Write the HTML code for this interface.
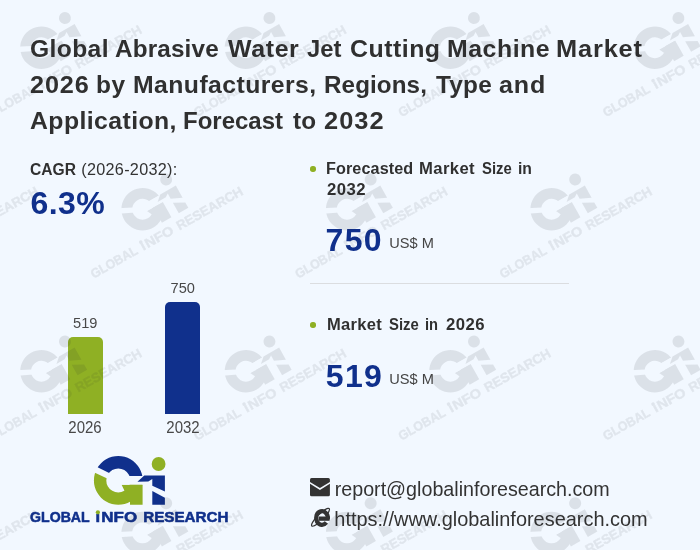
<!DOCTYPE html>
<html lang="en">
<head>
<meta charset="utf-8">
<title>Global Abrasive Water Jet Cutting Machine Market 2026</title>
<style>
html,body{margin:0;padding:0;}
body{width:700px;height:550px;overflow:hidden;background:#f2f8ff;font-family:"Liberation Sans",sans-serif;color:#333333;position:relative;}
.abs{position:absolute;white-space:nowrap;}
h1{position:absolute;left:0;top:0;margin:0;font-size:24px;line-height:36px;font-weight:bold;color:#303030;white-space:nowrap;}
.w{position:absolute;display:block;transform-origin:0 50%;}
.lbl{font-size:16px;line-height:20px;}
.big{font-size:32px;line-height:36px;font-weight:bold;color:#10308c;}
.unit{font-size:14.6px;line-height:16px;color:#444;}
.h2{font-size:16px;line-height:20px;font-weight:bold;color:#303030;}
.dot{position:absolute;width:5.4px;height:5.4px;border-radius:50%;background:#8fb024;}
.hr{position:absolute;left:310px;width:259px;top:283px;height:1px;background:#dbdde0;}
.bar{position:absolute;border-radius:5px 5px 0 0;}
.num{font-size:14.6px;line-height:16px;color:#484848;text-align:center;width:60px;}
.yr{font-size:16.4px;line-height:20px;transform:scaleX(0.915);}
.contact{font-size:19.8px;line-height:24px;color:#333;}
svg{position:absolute;left:0;top:0;}
</style>
</head>
<body>
<h1><span class="w" style="left:30.2px;top:30.8px;letter-spacing:0.37px;transform:scaleX(1.0260)">Global</span> <span class="w" style="left:115.2px;top:30.8px;letter-spacing:0.16px;transform:scaleX(1.0114)">Abrasive</span> <span class="w" style="left:227.5px;top:30.8px;letter-spacing:0.60px;transform:scaleX(1.0385)">Water</span> <span class="w" style="left:306.5px;top:30.8px;letter-spacing:0.00px;transform:scaleX(0.9909)">Jet</span> <span class="w" style="left:349.5px;top:30.8px;letter-spacing:0.48px;transform:scaleX(1.0370)">Cutting</span> <span class="w" style="left:446.7px;top:30.8px;letter-spacing:0.52px;transform:scaleX(1.0347)">Machine</span> <span class="w" style="left:556.4px;top:30.8px;letter-spacing:0.80px;transform:scaleX(1.0567)">Market</span> <span class="w" style="left:30.2px;top:66.7px;letter-spacing:0.83px;transform:scaleX(1.0515)">2026</span> <span class="w" style="left:96.0px;top:66.7px;letter-spacing:0.49px;transform:scaleX(1.0192)">by</span> <span class="w" style="left:132.9px;top:66.7px;letter-spacing:0.41px;transform:scaleX(1.0325)">Manufacturers,</span> <span class="w" style="left:324.2px;top:66.7px;letter-spacing:0.11px;transform:scaleX(1.0077)">Regions,</span> <span class="w" style="left:435.5px;top:66.7px;letter-spacing:0.25px;transform:scaleX(1.0142)">Type</span> <span class="w" style="left:498.5px;top:66.7px;letter-spacing:0.84px;transform:scaleX(1.0437)">and</span> <span class="w" style="left:29.5px;top:102.6px;letter-spacing:0.40px;transform:scaleX(1.0333)">Application,</span> <span class="w" style="left:183.0px;top:102.6px;letter-spacing:0.00px;transform:scaleX(1.0000)">Forecast</span> <span class="w" style="left:292.5px;top:102.6px;letter-spacing:0.25px;transform:scaleX(1.0114)">to</span> <span class="w" style="left:323.9px;top:102.6px;letter-spacing:0.94px;transform:scaleX(1.0588)">2032</span></h1>

<div class="abs lbl" style="left:30px;top:158.6px;"><b style="color:#303030;font-size:15.6px">CAGR</b> <span style="letter-spacing:0.3px;font-size:16.2px;margin-left:0.9px">(2026-2032):</span></div>
<div class="abs big" style="left:30.5px;top:184.5px;letter-spacing:0.4px">6.3%</div>

<div class="dot" style="left:310.3px;top:166.2px;"></div>
<div class="abs h2" style="left:0;top:0;"><span class="w" style="left:326.0px;top:159.0px;letter-spacing:0.10px;transform:scaleX(1.0105)">Forecasted</span> <span class="w" style="left:419.0px;top:159.0px;letter-spacing:0.38px;transform:scaleX(1.0396)">Market</span> <span class="w" style="left:482.0px;top:159.0px;letter-spacing:0.00px;transform:scaleX(0.9274)">Size</span> <span class="w" style="left:518.3px;top:159.0px;letter-spacing:0.00px;transform:scaleX(0.9796)">in</span> <span class="w" style="left:326.5px;top:179.5px;letter-spacing:0.48px;transform:scaleX(1.0435)">2032</span></div>
<div class="abs big" style="left:325.6px;top:222.2px;letter-spacing:1.3px">750</div>
<div class="abs unit" style="left:389.2px;top:235px;">US$ M</div>
<div class="hr"></div>
<div class="dot" style="left:310.3px;top:322.4px;"></div>
<div class="abs h2" style="left:0;top:0;"><span class="w" style="left:326.5px;top:315.1px;letter-spacing:0.31px;transform:scaleX(1.0322)">Market</span> <span class="w" style="left:389.0px;top:315.1px;letter-spacing:0.00px;transform:scaleX(0.9274)">Size</span> <span class="w" style="left:425.3px;top:315.1px;letter-spacing:0.00px;transform:scaleX(0.9184)">in</span> <span class="w" style="left:445.7px;top:315.1px;letter-spacing:0.48px;transform:scaleX(1.0435)">2026</span></div>
<div class="abs big" style="left:325.8px;top:357.6px;letter-spacing:1.3px">519</div>
<div class="abs unit" style="left:389.2px;top:370.8px;">US$ M</div>

<div class="bar" style="left:67.5px;top:336.5px;width:35px;height:77px;background:#8fb024;"></div>
<div class="bar" style="left:165px;top:301.5px;width:35px;height:112px;background:#10308c;"></div>
<div class="abs num" style="left:55.3px;top:315px;">519</div>
<div class="abs num" style="left:152.8px;top:280px;">750</div>
<div class="abs num yr" style="left:55.4px;top:416.7px;">2026</div>
<div class="abs num yr" style="left:152.9px;top:416.7px;">2032</div>

<div class="abs contact" style="left:334.7px;top:476.9px;font-size:19.7px">report@globalinforesearch.com</div>
<div class="abs contact" style="left:334.3px;top:506.9px;font-size:19.93px">https://www.globalinforesearch.com</div>

<svg width="700" height="550" viewBox="0 0 700 550">
<!-- colour logo -->

<clipPath id="ccb"><polygon points="88,448 146,448 146,476 115.2,476 88,462.4"/></clipPath>
<clipPath id="ccg"><polygon points="88,469.5 112,480.8 118,480.8 118,484.7 150,484.7 150,510 88,510"/></clipPath>
<path clip-path="url(#ccb)" fill="#10308c" fill-rule="evenodd" d="M118.3 456 a24.4 24.4 0 1 0 0.01 0 Z M118.3 468.4 a12 12 0 1 1 -0.01 0 Z"/>
<g clip-path="url(#ccg)" fill="#8fb024"><path fill-rule="evenodd" d="M118.3 456 a24.4 24.4 0 1 0 0.01 0 Z M118.3 468.4 a12 12 0 1 1 -0.01 0 Z"/><path d="M121.6 484.7 H142.6 V504.8 H130 V492 L124.6 491 Z"/></g>
<circle cx="158.6" cy="464" r="6.9" fill="#8fb024"/>
<path fill="#10308c" d="M144.3 475.5 H164.9 V491.4 L152.3 485.7 V478.9 L148.3 481.6 L137.4 481.7 Z"/>
<path fill="#10308c" d="M152.3 490.9 L164.9 497.7 V504.8 H152.3 Z"/>


<g font-family="'Liberation Sans', sans-serif" font-weight="bold" font-size="15.1" fill="#10308c" stroke="#10308c" stroke-width="0.55" stroke-linejoin="round">
<text x="30.1" y="522.4" textLength="59.6" lengthAdjust="spacingAndGlyphs">GLOBAL</text>
<text x="95.6" y="522.4" textLength="4.6" lengthAdjust="spacingAndGlyphs">ı</text>
<text x="101.3" y="522.4" textLength="35.8" lengthAdjust="spacingAndGlyphs">NFO</text>
<text x="143.2" y="522.4" textLength="85.4" lengthAdjust="spacingAndGlyphs">RESEARCH</text>
</g>
<circle cx="97.9" cy="512.3" r="2.1" fill="#8fb024"/>

<!-- mail icon -->
<rect x="310" y="478" width="19.9" height="18.3" rx="1.5" fill="#333333"/>
<path d="M309.6 482.6 L319.95 489 L330.3 482.6" fill="none" stroke="#f2f8ff" stroke-width="1.5"/>
<!-- ie icon -->
<g fill="none" stroke="#333333">
<path d="M326.4 522.55 A5.9 6.8 0 1 1 327.87 518.6" stroke-width="4.2"/>
<g transform="translate(320.5 517.3) rotate(-45)"><path d="M-7 2.5 A12.3 3.05 0 1 1 7 2.5" stroke-width="1.2"/></g>
</g>
<clipPath id="iec"><ellipse cx="322" cy="518" rx="8" ry="8.9"/></clipPath>
<rect clip-path="url(#iec)" x="318.6" y="516.5" width="11.6" height="4.3" fill="#333333"/>
</svg>
<svg width="700" height="550" viewBox="0 0 700 550" style="pointer-events:none">
<g transform="translate(65.5 71) rotate(-29.4) scale(0.87) translate(-129.3 -517.3)"><g opacity="0.1">
<clipPath id="w0cb"><polygon points="88,448 146,448 146,476 115.2,476 88,462.4"/></clipPath>
<clipPath id="w0cg"><polygon points="88,469.5 112,480.8 118,480.8 118,484.7 150,484.7 150,510 88,510"/></clipPath>
<path clip-path="url(#w0cb)" fill="#20242e" fill-rule="evenodd" d="M118.3 456 a24.4 24.4 0 1 0 0.01 0 Z M118.3 468.4 a12 12 0 1 1 -0.01 0 Z"/>
<g clip-path="url(#w0cg)" fill="#20242e"><path fill-rule="evenodd" d="M118.3 456 a24.4 24.4 0 1 0 0.01 0 Z M118.3 468.4 a12 12 0 1 1 -0.01 0 Z"/><path d="M121.6 484.7 H142.6 V504.8 H130 V492 L124.6 491 Z"/></g>
<circle cx="158.6" cy="464" r="6.9" fill="#20242e"/>
<path fill="#20242e" d="M144.3 475.5 H164.9 V491.4 L152.3 485.7 V478.9 L148.3 481.6 L137.4 481.7 Z"/>
<path fill="#20242e" d="M152.3 490.9 L164.9 497.7 V504.8 H152.3 Z"/>
</g><g opacity="0.082">
<g font-family="'Liberation Sans', sans-serif" font-weight="bold" font-size="15.1" fill="#20242e" stroke="#20242e" stroke-width="0.55" stroke-linejoin="round">
<text x="30.1" y="522.4" textLength="59.6" lengthAdjust="spacingAndGlyphs">GLOBAL</text>
<text x="95.6" y="522.4" textLength="4.6" lengthAdjust="spacingAndGlyphs">ı</text>
<text x="101.3" y="522.4" textLength="35.8" lengthAdjust="spacingAndGlyphs">NFO</text>
<text x="143.2" y="522.4" textLength="85.4" lengthAdjust="spacingAndGlyphs">RESEARCH</text>
</g>
<circle cx="97.9" cy="512.3" r="2.1" fill="#20242e"/>
</g></g>
<g transform="translate(65.5 394.5) rotate(-29.4) scale(0.87) translate(-129.3 -517.3)"><g opacity="0.1">
<clipPath id="w1cb"><polygon points="88,448 146,448 146,476 115.2,476 88,462.4"/></clipPath>
<clipPath id="w1cg"><polygon points="88,469.5 112,480.8 118,480.8 118,484.7 150,484.7 150,510 88,510"/></clipPath>
<path clip-path="url(#w1cb)" fill="#20242e" fill-rule="evenodd" d="M118.3 456 a24.4 24.4 0 1 0 0.01 0 Z M118.3 468.4 a12 12 0 1 1 -0.01 0 Z"/>
<g clip-path="url(#w1cg)" fill="#20242e"><path fill-rule="evenodd" d="M118.3 456 a24.4 24.4 0 1 0 0.01 0 Z M118.3 468.4 a12 12 0 1 1 -0.01 0 Z"/><path d="M121.6 484.7 H142.6 V504.8 H130 V492 L124.6 491 Z"/></g>
<circle cx="158.6" cy="464" r="6.9" fill="#20242e"/>
<path fill="#20242e" d="M144.3 475.5 H164.9 V491.4 L152.3 485.7 V478.9 L148.3 481.6 L137.4 481.7 Z"/>
<path fill="#20242e" d="M152.3 490.9 L164.9 497.7 V504.8 H152.3 Z"/>
</g><g opacity="0.082">
<g font-family="'Liberation Sans', sans-serif" font-weight="bold" font-size="15.1" fill="#20242e" stroke="#20242e" stroke-width="0.55" stroke-linejoin="round">
<text x="30.1" y="522.4" textLength="59.6" lengthAdjust="spacingAndGlyphs">GLOBAL</text>
<text x="95.6" y="522.4" textLength="4.6" lengthAdjust="spacingAndGlyphs">ı</text>
<text x="101.3" y="522.4" textLength="35.8" lengthAdjust="spacingAndGlyphs">NFO</text>
<text x="143.2" y="522.4" textLength="85.4" lengthAdjust="spacingAndGlyphs">RESEARCH</text>
</g>
<circle cx="97.9" cy="512.3" r="2.1" fill="#20242e"/>
</g></g>
<g transform="translate(270 71) rotate(-29.4) scale(0.87) translate(-129.3 -517.3)"><g opacity="0.1">
<clipPath id="w2cb"><polygon points="88,448 146,448 146,476 115.2,476 88,462.4"/></clipPath>
<clipPath id="w2cg"><polygon points="88,469.5 112,480.8 118,480.8 118,484.7 150,484.7 150,510 88,510"/></clipPath>
<path clip-path="url(#w2cb)" fill="#20242e" fill-rule="evenodd" d="M118.3 456 a24.4 24.4 0 1 0 0.01 0 Z M118.3 468.4 a12 12 0 1 1 -0.01 0 Z"/>
<g clip-path="url(#w2cg)" fill="#20242e"><path fill-rule="evenodd" d="M118.3 456 a24.4 24.4 0 1 0 0.01 0 Z M118.3 468.4 a12 12 0 1 1 -0.01 0 Z"/><path d="M121.6 484.7 H142.6 V504.8 H130 V492 L124.6 491 Z"/></g>
<circle cx="158.6" cy="464" r="6.9" fill="#20242e"/>
<path fill="#20242e" d="M144.3 475.5 H164.9 V491.4 L152.3 485.7 V478.9 L148.3 481.6 L137.4 481.7 Z"/>
<path fill="#20242e" d="M152.3 490.9 L164.9 497.7 V504.8 H152.3 Z"/>
</g><g opacity="0.082">
<g font-family="'Liberation Sans', sans-serif" font-weight="bold" font-size="15.1" fill="#20242e" stroke="#20242e" stroke-width="0.55" stroke-linejoin="round">
<text x="30.1" y="522.4" textLength="59.6" lengthAdjust="spacingAndGlyphs">GLOBAL</text>
<text x="95.6" y="522.4" textLength="4.6" lengthAdjust="spacingAndGlyphs">ı</text>
<text x="101.3" y="522.4" textLength="35.8" lengthAdjust="spacingAndGlyphs">NFO</text>
<text x="143.2" y="522.4" textLength="85.4" lengthAdjust="spacingAndGlyphs">RESEARCH</text>
</g>
<circle cx="97.9" cy="512.3" r="2.1" fill="#20242e"/>
</g></g>
<g transform="translate(270 394.5) rotate(-29.4) scale(0.87) translate(-129.3 -517.3)"><g opacity="0.1">
<clipPath id="w3cb"><polygon points="88,448 146,448 146,476 115.2,476 88,462.4"/></clipPath>
<clipPath id="w3cg"><polygon points="88,469.5 112,480.8 118,480.8 118,484.7 150,484.7 150,510 88,510"/></clipPath>
<path clip-path="url(#w3cb)" fill="#20242e" fill-rule="evenodd" d="M118.3 456 a24.4 24.4 0 1 0 0.01 0 Z M118.3 468.4 a12 12 0 1 1 -0.01 0 Z"/>
<g clip-path="url(#w3cg)" fill="#20242e"><path fill-rule="evenodd" d="M118.3 456 a24.4 24.4 0 1 0 0.01 0 Z M118.3 468.4 a12 12 0 1 1 -0.01 0 Z"/><path d="M121.6 484.7 H142.6 V504.8 H130 V492 L124.6 491 Z"/></g>
<circle cx="158.6" cy="464" r="6.9" fill="#20242e"/>
<path fill="#20242e" d="M144.3 475.5 H164.9 V491.4 L152.3 485.7 V478.9 L148.3 481.6 L137.4 481.7 Z"/>
<path fill="#20242e" d="M152.3 490.9 L164.9 497.7 V504.8 H152.3 Z"/>
</g><g opacity="0.082">
<g font-family="'Liberation Sans', sans-serif" font-weight="bold" font-size="15.1" fill="#20242e" stroke="#20242e" stroke-width="0.55" stroke-linejoin="round">
<text x="30.1" y="522.4" textLength="59.6" lengthAdjust="spacingAndGlyphs">GLOBAL</text>
<text x="95.6" y="522.4" textLength="4.6" lengthAdjust="spacingAndGlyphs">ı</text>
<text x="101.3" y="522.4" textLength="35.8" lengthAdjust="spacingAndGlyphs">NFO</text>
<text x="143.2" y="522.4" textLength="85.4" lengthAdjust="spacingAndGlyphs">RESEARCH</text>
</g>
<circle cx="97.9" cy="512.3" r="2.1" fill="#20242e"/>
</g></g>
<g transform="translate(474.5 71) rotate(-29.4) scale(0.87) translate(-129.3 -517.3)"><g opacity="0.1">
<clipPath id="w4cb"><polygon points="88,448 146,448 146,476 115.2,476 88,462.4"/></clipPath>
<clipPath id="w4cg"><polygon points="88,469.5 112,480.8 118,480.8 118,484.7 150,484.7 150,510 88,510"/></clipPath>
<path clip-path="url(#w4cb)" fill="#20242e" fill-rule="evenodd" d="M118.3 456 a24.4 24.4 0 1 0 0.01 0 Z M118.3 468.4 a12 12 0 1 1 -0.01 0 Z"/>
<g clip-path="url(#w4cg)" fill="#20242e"><path fill-rule="evenodd" d="M118.3 456 a24.4 24.4 0 1 0 0.01 0 Z M118.3 468.4 a12 12 0 1 1 -0.01 0 Z"/><path d="M121.6 484.7 H142.6 V504.8 H130 V492 L124.6 491 Z"/></g>
<circle cx="158.6" cy="464" r="6.9" fill="#20242e"/>
<path fill="#20242e" d="M144.3 475.5 H164.9 V491.4 L152.3 485.7 V478.9 L148.3 481.6 L137.4 481.7 Z"/>
<path fill="#20242e" d="M152.3 490.9 L164.9 497.7 V504.8 H152.3 Z"/>
</g><g opacity="0.082">
<g font-family="'Liberation Sans', sans-serif" font-weight="bold" font-size="15.1" fill="#20242e" stroke="#20242e" stroke-width="0.55" stroke-linejoin="round">
<text x="30.1" y="522.4" textLength="59.6" lengthAdjust="spacingAndGlyphs">GLOBAL</text>
<text x="95.6" y="522.4" textLength="4.6" lengthAdjust="spacingAndGlyphs">ı</text>
<text x="101.3" y="522.4" textLength="35.8" lengthAdjust="spacingAndGlyphs">NFO</text>
<text x="143.2" y="522.4" textLength="85.4" lengthAdjust="spacingAndGlyphs">RESEARCH</text>
</g>
<circle cx="97.9" cy="512.3" r="2.1" fill="#20242e"/>
</g></g>
<g transform="translate(474.5 394.5) rotate(-29.4) scale(0.87) translate(-129.3 -517.3)"><g opacity="0.1">
<clipPath id="w5cb"><polygon points="88,448 146,448 146,476 115.2,476 88,462.4"/></clipPath>
<clipPath id="w5cg"><polygon points="88,469.5 112,480.8 118,480.8 118,484.7 150,484.7 150,510 88,510"/></clipPath>
<path clip-path="url(#w5cb)" fill="#20242e" fill-rule="evenodd" d="M118.3 456 a24.4 24.4 0 1 0 0.01 0 Z M118.3 468.4 a12 12 0 1 1 -0.01 0 Z"/>
<g clip-path="url(#w5cg)" fill="#20242e"><path fill-rule="evenodd" d="M118.3 456 a24.4 24.4 0 1 0 0.01 0 Z M118.3 468.4 a12 12 0 1 1 -0.01 0 Z"/><path d="M121.6 484.7 H142.6 V504.8 H130 V492 L124.6 491 Z"/></g>
<circle cx="158.6" cy="464" r="6.9" fill="#20242e"/>
<path fill="#20242e" d="M144.3 475.5 H164.9 V491.4 L152.3 485.7 V478.9 L148.3 481.6 L137.4 481.7 Z"/>
<path fill="#20242e" d="M152.3 490.9 L164.9 497.7 V504.8 H152.3 Z"/>
</g><g opacity="0.082">
<g font-family="'Liberation Sans', sans-serif" font-weight="bold" font-size="15.1" fill="#20242e" stroke="#20242e" stroke-width="0.55" stroke-linejoin="round">
<text x="30.1" y="522.4" textLength="59.6" lengthAdjust="spacingAndGlyphs">GLOBAL</text>
<text x="95.6" y="522.4" textLength="4.6" lengthAdjust="spacingAndGlyphs">ı</text>
<text x="101.3" y="522.4" textLength="35.8" lengthAdjust="spacingAndGlyphs">NFO</text>
<text x="143.2" y="522.4" textLength="85.4" lengthAdjust="spacingAndGlyphs">RESEARCH</text>
</g>
<circle cx="97.9" cy="512.3" r="2.1" fill="#20242e"/>
</g></g>
<g transform="translate(679 71) rotate(-29.4) scale(0.87) translate(-129.3 -517.3)"><g opacity="0.1">
<clipPath id="w6cb"><polygon points="88,448 146,448 146,476 115.2,476 88,462.4"/></clipPath>
<clipPath id="w6cg"><polygon points="88,469.5 112,480.8 118,480.8 118,484.7 150,484.7 150,510 88,510"/></clipPath>
<path clip-path="url(#w6cb)" fill="#20242e" fill-rule="evenodd" d="M118.3 456 a24.4 24.4 0 1 0 0.01 0 Z M118.3 468.4 a12 12 0 1 1 -0.01 0 Z"/>
<g clip-path="url(#w6cg)" fill="#20242e"><path fill-rule="evenodd" d="M118.3 456 a24.4 24.4 0 1 0 0.01 0 Z M118.3 468.4 a12 12 0 1 1 -0.01 0 Z"/><path d="M121.6 484.7 H142.6 V504.8 H130 V492 L124.6 491 Z"/></g>
<circle cx="158.6" cy="464" r="6.9" fill="#20242e"/>
<path fill="#20242e" d="M144.3 475.5 H164.9 V491.4 L152.3 485.7 V478.9 L148.3 481.6 L137.4 481.7 Z"/>
<path fill="#20242e" d="M152.3 490.9 L164.9 497.7 V504.8 H152.3 Z"/>
</g><g opacity="0.082">
<g font-family="'Liberation Sans', sans-serif" font-weight="bold" font-size="15.1" fill="#20242e" stroke="#20242e" stroke-width="0.55" stroke-linejoin="round">
<text x="30.1" y="522.4" textLength="59.6" lengthAdjust="spacingAndGlyphs">GLOBAL</text>
<text x="95.6" y="522.4" textLength="4.6" lengthAdjust="spacingAndGlyphs">ı</text>
<text x="101.3" y="522.4" textLength="35.8" lengthAdjust="spacingAndGlyphs">NFO</text>
<text x="143.2" y="522.4" textLength="85.4" lengthAdjust="spacingAndGlyphs">RESEARCH</text>
</g>
<circle cx="97.9" cy="512.3" r="2.1" fill="#20242e"/>
</g></g>
<g transform="translate(679 394.5) rotate(-29.4) scale(0.87) translate(-129.3 -517.3)"><g opacity="0.1">
<clipPath id="w7cb"><polygon points="88,448 146,448 146,476 115.2,476 88,462.4"/></clipPath>
<clipPath id="w7cg"><polygon points="88,469.5 112,480.8 118,480.8 118,484.7 150,484.7 150,510 88,510"/></clipPath>
<path clip-path="url(#w7cb)" fill="#20242e" fill-rule="evenodd" d="M118.3 456 a24.4 24.4 0 1 0 0.01 0 Z M118.3 468.4 a12 12 0 1 1 -0.01 0 Z"/>
<g clip-path="url(#w7cg)" fill="#20242e"><path fill-rule="evenodd" d="M118.3 456 a24.4 24.4 0 1 0 0.01 0 Z M118.3 468.4 a12 12 0 1 1 -0.01 0 Z"/><path d="M121.6 484.7 H142.6 V504.8 H130 V492 L124.6 491 Z"/></g>
<circle cx="158.6" cy="464" r="6.9" fill="#20242e"/>
<path fill="#20242e" d="M144.3 475.5 H164.9 V491.4 L152.3 485.7 V478.9 L148.3 481.6 L137.4 481.7 Z"/>
<path fill="#20242e" d="M152.3 490.9 L164.9 497.7 V504.8 H152.3 Z"/>
</g><g opacity="0.082">
<g font-family="'Liberation Sans', sans-serif" font-weight="bold" font-size="15.1" fill="#20242e" stroke="#20242e" stroke-width="0.55" stroke-linejoin="round">
<text x="30.1" y="522.4" textLength="59.6" lengthAdjust="spacingAndGlyphs">GLOBAL</text>
<text x="95.6" y="522.4" textLength="4.6" lengthAdjust="spacingAndGlyphs">ı</text>
<text x="101.3" y="522.4" textLength="35.8" lengthAdjust="spacingAndGlyphs">NFO</text>
<text x="143.2" y="522.4" textLength="85.4" lengthAdjust="spacingAndGlyphs">RESEARCH</text>
</g>
<circle cx="97.9" cy="512.3" r="2.1" fill="#20242e"/>
</g></g>
<g transform="translate(-37.8 232.5) rotate(-29.4) scale(0.87) translate(-129.3 -517.3)"><g opacity="0.1">
<clipPath id="w8cb"><polygon points="88,448 146,448 146,476 115.2,476 88,462.4"/></clipPath>
<clipPath id="w8cg"><polygon points="88,469.5 112,480.8 118,480.8 118,484.7 150,484.7 150,510 88,510"/></clipPath>
<path clip-path="url(#w8cb)" fill="#20242e" fill-rule="evenodd" d="M118.3 456 a24.4 24.4 0 1 0 0.01 0 Z M118.3 468.4 a12 12 0 1 1 -0.01 0 Z"/>
<g clip-path="url(#w8cg)" fill="#20242e"><path fill-rule="evenodd" d="M118.3 456 a24.4 24.4 0 1 0 0.01 0 Z M118.3 468.4 a12 12 0 1 1 -0.01 0 Z"/><path d="M121.6 484.7 H142.6 V504.8 H130 V492 L124.6 491 Z"/></g>
<circle cx="158.6" cy="464" r="6.9" fill="#20242e"/>
<path fill="#20242e" d="M144.3 475.5 H164.9 V491.4 L152.3 485.7 V478.9 L148.3 481.6 L137.4 481.7 Z"/>
<path fill="#20242e" d="M152.3 490.9 L164.9 497.7 V504.8 H152.3 Z"/>
</g><g opacity="0.082">
<g font-family="'Liberation Sans', sans-serif" font-weight="bold" font-size="15.1" fill="#20242e" stroke="#20242e" stroke-width="0.55" stroke-linejoin="round">
<text x="30.1" y="522.4" textLength="59.6" lengthAdjust="spacingAndGlyphs">GLOBAL</text>
<text x="95.6" y="522.4" textLength="4.6" lengthAdjust="spacingAndGlyphs">ı</text>
<text x="101.3" y="522.4" textLength="35.8" lengthAdjust="spacingAndGlyphs">NFO</text>
<text x="143.2" y="522.4" textLength="85.4" lengthAdjust="spacingAndGlyphs">RESEARCH</text>
</g>
<circle cx="97.9" cy="512.3" r="2.1" fill="#20242e"/>
</g></g>
<g transform="translate(-37.8 556.2) rotate(-29.4) scale(0.87) translate(-129.3 -517.3)"><g opacity="0.1">
<clipPath id="w9cb"><polygon points="88,448 146,448 146,476 115.2,476 88,462.4"/></clipPath>
<clipPath id="w9cg"><polygon points="88,469.5 112,480.8 118,480.8 118,484.7 150,484.7 150,510 88,510"/></clipPath>
<path clip-path="url(#w9cb)" fill="#20242e" fill-rule="evenodd" d="M118.3 456 a24.4 24.4 0 1 0 0.01 0 Z M118.3 468.4 a12 12 0 1 1 -0.01 0 Z"/>
<g clip-path="url(#w9cg)" fill="#20242e"><path fill-rule="evenodd" d="M118.3 456 a24.4 24.4 0 1 0 0.01 0 Z M118.3 468.4 a12 12 0 1 1 -0.01 0 Z"/><path d="M121.6 484.7 H142.6 V504.8 H130 V492 L124.6 491 Z"/></g>
<circle cx="158.6" cy="464" r="6.9" fill="#20242e"/>
<path fill="#20242e" d="M144.3 475.5 H164.9 V491.4 L152.3 485.7 V478.9 L148.3 481.6 L137.4 481.7 Z"/>
<path fill="#20242e" d="M152.3 490.9 L164.9 497.7 V504.8 H152.3 Z"/>
</g><g opacity="0.082">
<g font-family="'Liberation Sans', sans-serif" font-weight="bold" font-size="15.1" fill="#20242e" stroke="#20242e" stroke-width="0.55" stroke-linejoin="round">
<text x="30.1" y="522.4" textLength="59.6" lengthAdjust="spacingAndGlyphs">GLOBAL</text>
<text x="95.6" y="522.4" textLength="4.6" lengthAdjust="spacingAndGlyphs">ı</text>
<text x="101.3" y="522.4" textLength="35.8" lengthAdjust="spacingAndGlyphs">NFO</text>
<text x="143.2" y="522.4" textLength="85.4" lengthAdjust="spacingAndGlyphs">RESEARCH</text>
</g>
<circle cx="97.9" cy="512.3" r="2.1" fill="#20242e"/>
</g></g>
<g transform="translate(166.7 232.5) rotate(-29.4) scale(0.87) translate(-129.3 -517.3)"><g opacity="0.1">
<clipPath id="w10cb"><polygon points="88,448 146,448 146,476 115.2,476 88,462.4"/></clipPath>
<clipPath id="w10cg"><polygon points="88,469.5 112,480.8 118,480.8 118,484.7 150,484.7 150,510 88,510"/></clipPath>
<path clip-path="url(#w10cb)" fill="#20242e" fill-rule="evenodd" d="M118.3 456 a24.4 24.4 0 1 0 0.01 0 Z M118.3 468.4 a12 12 0 1 1 -0.01 0 Z"/>
<g clip-path="url(#w10cg)" fill="#20242e"><path fill-rule="evenodd" d="M118.3 456 a24.4 24.4 0 1 0 0.01 0 Z M118.3 468.4 a12 12 0 1 1 -0.01 0 Z"/><path d="M121.6 484.7 H142.6 V504.8 H130 V492 L124.6 491 Z"/></g>
<circle cx="158.6" cy="464" r="6.9" fill="#20242e"/>
<path fill="#20242e" d="M144.3 475.5 H164.9 V491.4 L152.3 485.7 V478.9 L148.3 481.6 L137.4 481.7 Z"/>
<path fill="#20242e" d="M152.3 490.9 L164.9 497.7 V504.8 H152.3 Z"/>
</g><g opacity="0.082">
<g font-family="'Liberation Sans', sans-serif" font-weight="bold" font-size="15.1" fill="#20242e" stroke="#20242e" stroke-width="0.55" stroke-linejoin="round">
<text x="30.1" y="522.4" textLength="59.6" lengthAdjust="spacingAndGlyphs">GLOBAL</text>
<text x="95.6" y="522.4" textLength="4.6" lengthAdjust="spacingAndGlyphs">ı</text>
<text x="101.3" y="522.4" textLength="35.8" lengthAdjust="spacingAndGlyphs">NFO</text>
<text x="143.2" y="522.4" textLength="85.4" lengthAdjust="spacingAndGlyphs">RESEARCH</text>
</g>
<circle cx="97.9" cy="512.3" r="2.1" fill="#20242e"/>
</g></g>
<g transform="translate(166.7 556.2) rotate(-29.4) scale(0.87) translate(-129.3 -517.3)"><g opacity="0.1">
<clipPath id="w11cb"><polygon points="88,448 146,448 146,476 115.2,476 88,462.4"/></clipPath>
<clipPath id="w11cg"><polygon points="88,469.5 112,480.8 118,480.8 118,484.7 150,484.7 150,510 88,510"/></clipPath>
<path clip-path="url(#w11cb)" fill="#20242e" fill-rule="evenodd" d="M118.3 456 a24.4 24.4 0 1 0 0.01 0 Z M118.3 468.4 a12 12 0 1 1 -0.01 0 Z"/>
<g clip-path="url(#w11cg)" fill="#20242e"><path fill-rule="evenodd" d="M118.3 456 a24.4 24.4 0 1 0 0.01 0 Z M118.3 468.4 a12 12 0 1 1 -0.01 0 Z"/><path d="M121.6 484.7 H142.6 V504.8 H130 V492 L124.6 491 Z"/></g>
<circle cx="158.6" cy="464" r="6.9" fill="#20242e"/>
<path fill="#20242e" d="M144.3 475.5 H164.9 V491.4 L152.3 485.7 V478.9 L148.3 481.6 L137.4 481.7 Z"/>
<path fill="#20242e" d="M152.3 490.9 L164.9 497.7 V504.8 H152.3 Z"/>
</g><g opacity="0.082">
<g font-family="'Liberation Sans', sans-serif" font-weight="bold" font-size="15.1" fill="#20242e" stroke="#20242e" stroke-width="0.55" stroke-linejoin="round">
<text x="30.1" y="522.4" textLength="59.6" lengthAdjust="spacingAndGlyphs">GLOBAL</text>
<text x="95.6" y="522.4" textLength="4.6" lengthAdjust="spacingAndGlyphs">ı</text>
<text x="101.3" y="522.4" textLength="35.8" lengthAdjust="spacingAndGlyphs">NFO</text>
<text x="143.2" y="522.4" textLength="85.4" lengthAdjust="spacingAndGlyphs">RESEARCH</text>
</g>
<circle cx="97.9" cy="512.3" r="2.1" fill="#20242e"/>
</g></g>
<g transform="translate(371.2 232.5) rotate(-29.4) scale(0.87) translate(-129.3 -517.3)"><g opacity="0.1">
<clipPath id="w12cb"><polygon points="88,448 146,448 146,476 115.2,476 88,462.4"/></clipPath>
<clipPath id="w12cg"><polygon points="88,469.5 112,480.8 118,480.8 118,484.7 150,484.7 150,510 88,510"/></clipPath>
<path clip-path="url(#w12cb)" fill="#20242e" fill-rule="evenodd" d="M118.3 456 a24.4 24.4 0 1 0 0.01 0 Z M118.3 468.4 a12 12 0 1 1 -0.01 0 Z"/>
<g clip-path="url(#w12cg)" fill="#20242e"><path fill-rule="evenodd" d="M118.3 456 a24.4 24.4 0 1 0 0.01 0 Z M118.3 468.4 a12 12 0 1 1 -0.01 0 Z"/><path d="M121.6 484.7 H142.6 V504.8 H130 V492 L124.6 491 Z"/></g>
<circle cx="158.6" cy="464" r="6.9" fill="#20242e"/>
<path fill="#20242e" d="M144.3 475.5 H164.9 V491.4 L152.3 485.7 V478.9 L148.3 481.6 L137.4 481.7 Z"/>
<path fill="#20242e" d="M152.3 490.9 L164.9 497.7 V504.8 H152.3 Z"/>
</g><g opacity="0.082">
<g font-family="'Liberation Sans', sans-serif" font-weight="bold" font-size="15.1" fill="#20242e" stroke="#20242e" stroke-width="0.55" stroke-linejoin="round">
<text x="30.1" y="522.4" textLength="59.6" lengthAdjust="spacingAndGlyphs">GLOBAL</text>
<text x="95.6" y="522.4" textLength="4.6" lengthAdjust="spacingAndGlyphs">ı</text>
<text x="101.3" y="522.4" textLength="35.8" lengthAdjust="spacingAndGlyphs">NFO</text>
<text x="143.2" y="522.4" textLength="85.4" lengthAdjust="spacingAndGlyphs">RESEARCH</text>
</g>
<circle cx="97.9" cy="512.3" r="2.1" fill="#20242e"/>
</g></g>
<g transform="translate(371.2 556.2) rotate(-29.4) scale(0.87) translate(-129.3 -517.3)"><g opacity="0.1">
<clipPath id="w13cb"><polygon points="88,448 146,448 146,476 115.2,476 88,462.4"/></clipPath>
<clipPath id="w13cg"><polygon points="88,469.5 112,480.8 118,480.8 118,484.7 150,484.7 150,510 88,510"/></clipPath>
<path clip-path="url(#w13cb)" fill="#20242e" fill-rule="evenodd" d="M118.3 456 a24.4 24.4 0 1 0 0.01 0 Z M118.3 468.4 a12 12 0 1 1 -0.01 0 Z"/>
<g clip-path="url(#w13cg)" fill="#20242e"><path fill-rule="evenodd" d="M118.3 456 a24.4 24.4 0 1 0 0.01 0 Z M118.3 468.4 a12 12 0 1 1 -0.01 0 Z"/><path d="M121.6 484.7 H142.6 V504.8 H130 V492 L124.6 491 Z"/></g>
<circle cx="158.6" cy="464" r="6.9" fill="#20242e"/>
<path fill="#20242e" d="M144.3 475.5 H164.9 V491.4 L152.3 485.7 V478.9 L148.3 481.6 L137.4 481.7 Z"/>
<path fill="#20242e" d="M152.3 490.9 L164.9 497.7 V504.8 H152.3 Z"/>
</g><g opacity="0.082">
<g font-family="'Liberation Sans', sans-serif" font-weight="bold" font-size="15.1" fill="#20242e" stroke="#20242e" stroke-width="0.55" stroke-linejoin="round">
<text x="30.1" y="522.4" textLength="59.6" lengthAdjust="spacingAndGlyphs">GLOBAL</text>
<text x="95.6" y="522.4" textLength="4.6" lengthAdjust="spacingAndGlyphs">ı</text>
<text x="101.3" y="522.4" textLength="35.8" lengthAdjust="spacingAndGlyphs">NFO</text>
<text x="143.2" y="522.4" textLength="85.4" lengthAdjust="spacingAndGlyphs">RESEARCH</text>
</g>
<circle cx="97.9" cy="512.3" r="2.1" fill="#20242e"/>
</g></g>
<g transform="translate(575.7 232.5) rotate(-29.4) scale(0.87) translate(-129.3 -517.3)"><g opacity="0.1">
<clipPath id="w14cb"><polygon points="88,448 146,448 146,476 115.2,476 88,462.4"/></clipPath>
<clipPath id="w14cg"><polygon points="88,469.5 112,480.8 118,480.8 118,484.7 150,484.7 150,510 88,510"/></clipPath>
<path clip-path="url(#w14cb)" fill="#20242e" fill-rule="evenodd" d="M118.3 456 a24.4 24.4 0 1 0 0.01 0 Z M118.3 468.4 a12 12 0 1 1 -0.01 0 Z"/>
<g clip-path="url(#w14cg)" fill="#20242e"><path fill-rule="evenodd" d="M118.3 456 a24.4 24.4 0 1 0 0.01 0 Z M118.3 468.4 a12 12 0 1 1 -0.01 0 Z"/><path d="M121.6 484.7 H142.6 V504.8 H130 V492 L124.6 491 Z"/></g>
<circle cx="158.6" cy="464" r="6.9" fill="#20242e"/>
<path fill="#20242e" d="M144.3 475.5 H164.9 V491.4 L152.3 485.7 V478.9 L148.3 481.6 L137.4 481.7 Z"/>
<path fill="#20242e" d="M152.3 490.9 L164.9 497.7 V504.8 H152.3 Z"/>
</g><g opacity="0.082">
<g font-family="'Liberation Sans', sans-serif" font-weight="bold" font-size="15.1" fill="#20242e" stroke="#20242e" stroke-width="0.55" stroke-linejoin="round">
<text x="30.1" y="522.4" textLength="59.6" lengthAdjust="spacingAndGlyphs">GLOBAL</text>
<text x="95.6" y="522.4" textLength="4.6" lengthAdjust="spacingAndGlyphs">ı</text>
<text x="101.3" y="522.4" textLength="35.8" lengthAdjust="spacingAndGlyphs">NFO</text>
<text x="143.2" y="522.4" textLength="85.4" lengthAdjust="spacingAndGlyphs">RESEARCH</text>
</g>
<circle cx="97.9" cy="512.3" r="2.1" fill="#20242e"/>
</g></g>
<g transform="translate(575.7 556.2) rotate(-29.4) scale(0.87) translate(-129.3 -517.3)"><g opacity="0.1">
<clipPath id="w15cb"><polygon points="88,448 146,448 146,476 115.2,476 88,462.4"/></clipPath>
<clipPath id="w15cg"><polygon points="88,469.5 112,480.8 118,480.8 118,484.7 150,484.7 150,510 88,510"/></clipPath>
<path clip-path="url(#w15cb)" fill="#20242e" fill-rule="evenodd" d="M118.3 456 a24.4 24.4 0 1 0 0.01 0 Z M118.3 468.4 a12 12 0 1 1 -0.01 0 Z"/>
<g clip-path="url(#w15cg)" fill="#20242e"><path fill-rule="evenodd" d="M118.3 456 a24.4 24.4 0 1 0 0.01 0 Z M118.3 468.4 a12 12 0 1 1 -0.01 0 Z"/><path d="M121.6 484.7 H142.6 V504.8 H130 V492 L124.6 491 Z"/></g>
<circle cx="158.6" cy="464" r="6.9" fill="#20242e"/>
<path fill="#20242e" d="M144.3 475.5 H164.9 V491.4 L152.3 485.7 V478.9 L148.3 481.6 L137.4 481.7 Z"/>
<path fill="#20242e" d="M152.3 490.9 L164.9 497.7 V504.8 H152.3 Z"/>
</g><g opacity="0.082">
<g font-family="'Liberation Sans', sans-serif" font-weight="bold" font-size="15.1" fill="#20242e" stroke="#20242e" stroke-width="0.55" stroke-linejoin="round">
<text x="30.1" y="522.4" textLength="59.6" lengthAdjust="spacingAndGlyphs">GLOBAL</text>
<text x="95.6" y="522.4" textLength="4.6" lengthAdjust="spacingAndGlyphs">ı</text>
<text x="101.3" y="522.4" textLength="35.8" lengthAdjust="spacingAndGlyphs">NFO</text>
<text x="143.2" y="522.4" textLength="85.4" lengthAdjust="spacingAndGlyphs">RESEARCH</text>
</g>
<circle cx="97.9" cy="512.3" r="2.1" fill="#20242e"/>
</g></g>

</svg>
</body>
</html>
